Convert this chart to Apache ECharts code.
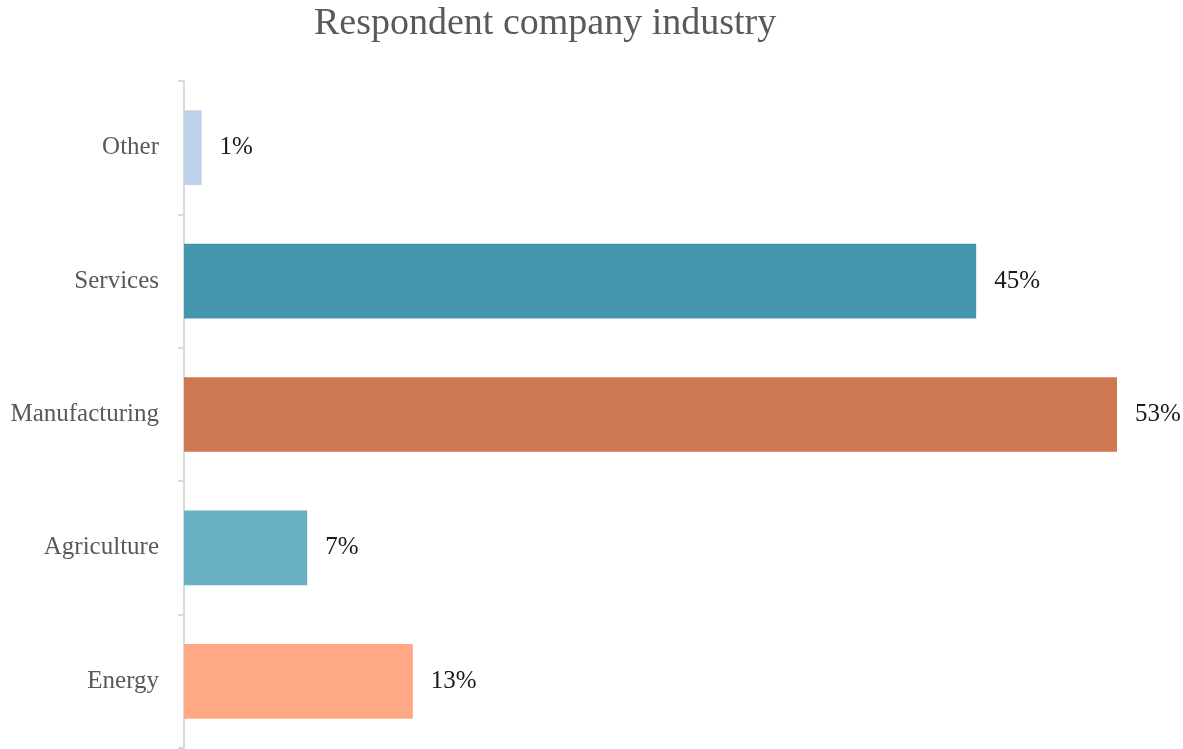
<!DOCTYPE html>
<html>
<head>
<meta charset="utf-8">
<style>
  html, body { margin: 0; padding: 0; background: #ffffff; }
  #chart { width: 1183px; height: 749px; }
</style>
<script src="https://cdn.jsdelivr.net/npm/echarts@6/dist/echarts.min.js"></script>
</head>
<body>
<div id="chart"></div>
<script>
// Industries, listed bottom to top as they appear on the category axis
const industries = ['Energy', 'Agriculture', 'Manufacturing', 'Services', 'Other'];
// Share of respondents per industry, in percent
const shares = [13, 7, 53, 45, 1];
// Fill colour for each industry bar
const barColors = ['#fea984', '#6ab1c5', '#cd7850', '#4596ad', '#bdd1ea'];

const serif = '"Liberation Serif", "DejaVu Serif", serif';

const chart = echarts.init(document.getElementById('chart'), null, { renderer: 'canvas' });

chart.setOption({
  backgroundColor: '#ffffff',
  animation: false,
  title: {
    text: 'Respondent company industry',
    left: 309,
    top: 0,
    textStyle: {
      fontFamily: serif,
      fontSize: 38,
      fontWeight: 'normal',
      color: '#595959'
    }
  },
  grid: {
    left: 184,
    right: 66,
    top: 81,
    bottom: 1,
    containLabel: false
  },
  xAxis: {
    type: 'value',
    min: 0,
    max: 53,
    show: false
  },
  yAxis: {
    type: 'category',
    data: industries,
    axisLine: { show: true, lineStyle: { color: '#d9d9d9', width: 2 } },
    axisTick: { show: true, length: 6, lineStyle: { color: '#d9d9d9', width: 2 } },
    axisLabel: {
      margin: 25,
      fontFamily: serif,
      fontSize: 25,
      color: '#595959'
    },
    splitLine: { show: false }
  },
  series: [{
    type: 'bar',
    data: shares.map((v, i) => ({ value: v, itemStyle: { color: barColors[i] } })),
    barWidth: '56%',
    label: {
      show: true,
      position: 'right',
      distance: 18,
      formatter: p => p.value + '%',
      fontFamily: serif,
      fontSize: 25,
      color: '#1a1a1a'
    }
  }]
});
</script>
</body>
</html>
